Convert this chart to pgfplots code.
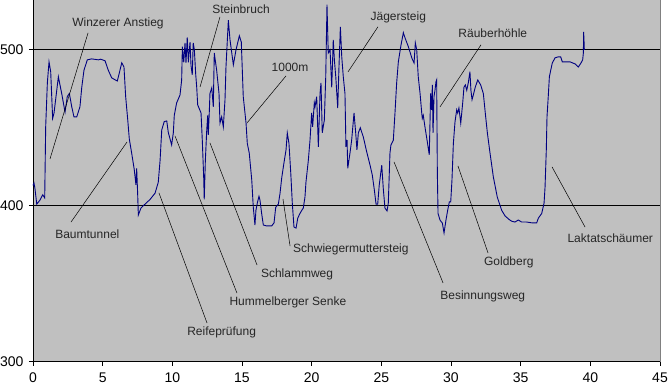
\documentclass[border=0pt]{standalone}
\usepackage{fontspec}
\setmainfont{Liberation Sans}
\usepackage{pgfplots}
\pgfplotsset{compat=1.18}
\definecolor{plotgray}{HTML}{C0C0C0}
\definecolor{navyline}{HTML}{000080}
\definecolor{bordergray}{HTML}{808080}
\begin{document}
\begin{tikzpicture}
\path[use as bounding box] (0,0) rectangle (668bp,386bp);
\begin{axis}[
  at={(33bp,24.5bp)}, anchor=south west,
  width=627bp, height=361.5bp, scale only axis,
  xmin=0, xmax=45, ymin=300, ymax=532,
  axis background/.style={fill=plotgray},
  axis lines=left,
  axis line style={black, line width=0.8bp, -},
  xtick={0,5,...,45}, ytick={300,400,500},
  tick align=outside, major tick length=4bp,
  tick style={black, line width=0.8bp},
  ymajorgrids, grid style={black, line width=0.8bp},
  /pgf/number format/assume math mode=true,
  ticklabel style={font=\fontsize{14bp}{16bp}\selectfont},
  xticklabel style={yshift=-4bp},
  yticklabel style={xshift=-2bp},
  clip=false,
]
\addplot[navyline, line width=0.9bp] coordinates {
(0.00,413) (0.07,414.6) (0.14,411) (0.27,401) (0.50,403.6) (0.70,407) (0.84,405)
(0.91,450.6) (1.03,478.8) (1.15,492.3) (1.27,486) (1.41,456) (1.51,459.5)
(1.82,482.7) (2.06,472) (2.30,460) (2.46,470) (2.61,472) (2.78,463.5)
(2.94,457) (3.14,457) (3.37,463.5) (3.50,476) (3.66,487) (3.90,493.6)
(4.21,494.2) (4.69,493.6) (4.86,494) (5.17,493) (5.40,487) (5.65,482)
(6.05,480) (6.19,485) (6.37,491.7) (6.53,489) (6.65,470) (6.80,455) (6.91,443)
(7.08,433.8) (7.27,423) (7.39,413.3) (7.44,424) (7.51,408) (7.56,394)
(7.75,398.5) (8.04,401) (8.40,404) (8.76,408) (8.99,415) (9.12,429)
(9.24,448.6) (9.42,454) (9.60,454.4) (9.71,447) (9.95,439) (10.07,446.7)
(10.14,458) (10.31,466) (10.55,471) (10.67,480.7) (10.72,502) (10.82,492)
(10.91,504.5) (10.98,491.6) (11.07,508) (11.15,492) (11.27,505) (11.34,490)
(11.43,484) (11.50,504.5) (11.58,500) (11.68,484) (11.75,476) (11.82,464.7)
(12.06,459.5) (12.15,442) (12.25,418.4) (12.29,404) (12.37,429) (12.47,448.6)
(12.54,458) (12.58,445.4) (12.65,459.5) (12.70,472) (12.83,475.6) (12.94,463.5)
(13.01,498) (13.18,487) (13.35,472) (13.42,453) (13.54,457) (13.66,450.6)
(13.78,468) (13.85,489) (14.02,519) (14.14,506.4) (14.38,490.4) (14.57,500)
(14.81,509) (14.95,505) (15.09,470) (15.29,453) (15.38,440) (15.52,433.8)
(15.70,416.5) (15.81,399) (15.93,387.6) (16.00,397) (16.10,401.7) (16.22,406)
(16.29,403.6) (16.41,395) (16.53,387.6) (16.77,387) (17.13,387) (17.30,389)
(17.42,399) (17.61,401) (17.73,408) (17.85,417.8) (18.01,427.4) (18.16,435.8)
(18.25,446.7) (18.37,440) (18.50,421) (18.61,401.7) (18.73,386.3) (18.88,385.6)
(19.00,392) (19.16,395) (19.29,397) (19.40,398.5) (19.52,405.6) (19.59,415)
(19.76,429) (19.88,442) (20.00,459.5) (20.07,450.6) (20.19,466) (20.24,463.5)
(20.36,470) (20.48,437.7) (20.60,472) (20.67,478.8) (20.76,446.7) (20.91,455)
(21.01,482.7) (21.10,529) (21.19,498) (21.32,500) (21.44,476) (21.55,506.4)
(21.63,493.6) (21.73,482.7) (21.87,462.7) (21.96,489) (22.06,514.8) (22.16,495.5)
(22.27,482.7) (22.39,472) (22.46,437.7) (22.54,442) (22.59,424) (22.75,433.8)
(22.87,442) (23.04,459.5) (23.16,446.7) (23.25,435.8) (23.35,446.7) (23.49,450)
(23.71,444) (23.95,434.5) (24.19,426) (24.35,419.7) (24.50,410) (24.62,401)
(24.74,401) (24.85,413.3) (25.03,426) (25.14,411) (25.26,398.5) (25.41,396.6)
(25.50,401.7) (25.62,433.8) (25.69,439) (25.86,442) (25.98,459.5) (26.10,478.8)
(26.22,492.3) (26.41,503) (26.58,511) (26.70,507.7) (26.94,502) (27.20,494.5)
(27.35,491.6) (27.44,504.5) (27.54,500) (27.65,482.7) (27.78,472) (27.90,459.5)
(27.94,456) (28.01,458) (28.13,450.6) (28.30,441) (28.44,432.6) (28.54,472)
(28.61,461.5) (28.66,477.5) (28.71,446.7) (28.78,470) (28.85,474) (28.92,479.5)
(28.97,480.7) (29.02,421) (29.07,395) (29.21,390.8) (29.38,388.8) (29.50,382.5)
(29.64,390.8) (29.76,397) (29.88,402.4) (29.98,402.4) (30.07,416.5) (30.17,440)
(30.29,454) (30.41,461.5) (30.48,459.5) (30.57,462.7) (30.70,453) (30.84,466)
(30.93,476) (31.03,477.5) (31.13,474) (31.24,478.8) (31.36,486) (31.43,474)
(31.51,468) (31.60,471) (31.74,476) (31.92,480.7) (32.13,477.5) (32.32,472)
(32.46,459.5) (32.61,446.7) (32.80,433.8) (33.04,418.4) (33.32,405.6) (33.64,397)
(33.88,393.4) (34.19,391) (34.36,390) (34.59,389.5) (34.83,390.8) (35.07,389.5)
(35.43,389.5) (35.79,389) (36.15,389) (36.27,392) (36.51,395) (36.68,401.7)
(36.75,412) (36.84,435.8) (36.89,457) (36.98,470) (37.06,482.7) (37.16,487)
(37.27,491.6) (37.47,494.9) (37.70,495.5) (37.87,495.5) (37.99,492.3) (38.18,492.3)
(38.54,492.3) (38.90,491) (39.14,489) (39.33,491.6) (39.45,493.6) (39.50,498)
(39.52,511.6) (39.55,505) (39.57,500)
};
% right border of the plot area
\draw[bordergray, line width=0.8bp] (axis cs:45,300) -- (axis cs:45,532);
% leader lines
\begin{scope}[black, line width=0.5bp]
\draw (axis cs:3.95,510.9) -- (axis cs:1.22,430.0);
\draw (axis cs:6.75,440.9) -- (axis cs:2.73,389.5);
\draw (axis cs:13.42,521.2) -- (axis cs:11.99,476.2);
\draw (axis cs:18.16,483.3) -- (axis cs:15.36,453.1);
\draw (axis cs:24.76,514.8) -- (axis cs:22.61,485.9);
\draw (axis cs:32.15,503.2) -- (axis cs:29.21,463.4);
\draw (axis cs:37.25,424.9) -- (axis cs:39.62,386.3);
\draw (axis cs:30.50,425.5) -- (axis cs:32.66,369.6);
\draw (axis cs:25.91,428.1) -- (axis cs:29.43,350.4);
\draw (axis cs:17.94,404.3) -- (axis cs:18.45,374.1);
\draw (axis cs:16.08,361.9) -- (axis cs:12.70,440.3);
\draw (axis cs:14.64,343.9) -- (axis cs:10.19,444.8);
\draw (axis cs:12.49,324.7) -- (axis cs:9.04,408.2);
\end{scope}
% labels
\begin{scope}[every node/.style={font=\fontsize{12bp}{14bp}\selectfont, inner sep=0pt, text=black!85}]
\node at (axis cs:6.10,516.7) {Winzerer Anstieg};
\node at (axis cs:3.90,381.6) {Baumtunnel};
\node at (axis cs:14.93,526.1) {Steinbruch};
\node at (axis cs:18.45,488.6) {1000m};
\node at (axis cs:26.22,521.0) {Jägersteig};
\node at (axis cs:33.00,510.7) {Räuberhöhle};
\node at (axis cs:41.43,379.1) {Laktatschäumer};
\node at (axis cs:34.15,363.4) {Goldberg};
\node at (axis cs:32.28,342.0) {Besinnungsweg};
\node[anchor=west] at (axis cs:18.66,372.1) {Schwiegermuttersteig};
\node at (axis cs:18.95,356.1) {Schlammweg};
\node[anchor=west] at (axis cs:14.09,337.7) {Hummelberger Senke};
\node at (axis cs:13.54,318.7) {Reifeprüfung};
\end{scope}
\end{axis}
\end{tikzpicture}
\end{document}
